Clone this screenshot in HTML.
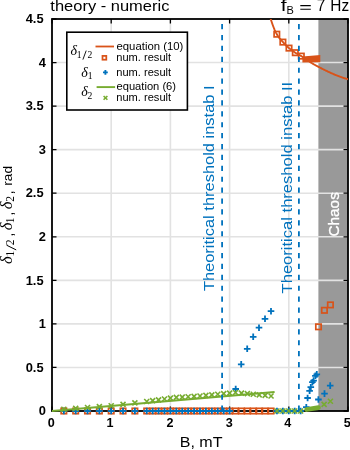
<!DOCTYPE html>
<html><head><meta charset="utf-8"><style>
html,body{margin:0;padding:0;background:#fff;width:350px;height:450px;overflow:hidden}
svg{display:block;will-change:transform;font-family:"Liberation Sans",sans-serif}
</style></head><body>
<svg width="350" height="450" viewBox="0 0 350 450">
<defs><clipPath id="ax"><rect x="52.0" y="19.0" width="296.0" height="392.0"/></clipPath></defs>
<rect x="318.40" y="19.0" width="29.60" height="392.0" fill="#999999"/><path d="M111.20 19.0V411.0M170.40 19.0V411.0M229.60 19.0V411.0M288.80 19.0V411.0M52.0 367.44H348.0M52.0 323.89H348.0M52.0 280.33H348.0M52.0 236.78H348.0M52.0 193.22H348.0M52.0 149.67H348.0M52.0 106.11H348.0M52.0 62.56H348.0" stroke="#e2e2e2" stroke-width="1.6" fill="none"/><path d="M52.00 411.0v-4.5M52.00 19.0v4.5M111.20 411.0v-4.5M111.20 19.0v4.5M170.40 411.0v-4.5M170.40 19.0v4.5M229.60 411.0v-4.5M229.60 19.0v4.5M288.80 411.0v-4.5M288.80 19.0v4.5M348.00 411.0v-4.5M348.00 19.0v4.5M52.0 411.00h4.5M348.0 411.00h-4.5M52.0 367.44h4.5M348.0 367.44h-4.5M52.0 323.89h4.5M348.0 323.89h-4.5M52.0 280.33h4.5M348.0 280.33h-4.5M52.0 236.78h4.5M348.0 236.78h-4.5M52.0 193.22h4.5M348.0 193.22h-4.5M52.0 149.67h4.5M348.0 149.67h-4.5M52.0 106.11h4.5M348.0 106.11h-4.5M52.0 62.56h4.5M348.0 62.56h-4.5M52.0 19.00h4.5M348.0 19.00h-4.5" stroke="#000" stroke-width="1.3" fill="none"/><rect x="52.0" y="19.0" width="296.0" height="392.0" fill="none" stroke="#000" stroke-width="1.8"/><polyline points="268.00,8.00 268.67,11.03 269.34,13.94 270.02,16.62 270.69,18.97 271.36,21.07 272.03,23.07 272.71,24.98 273.38,26.78 274.05,28.48 274.72,30.06 275.39,31.53 276.07,32.87 276.74,34.10 277.41,35.20 278.08,36.23 278.76,37.18 279.43,38.07 280.10,38.90 280.77,39.70 281.45,40.47 282.12,41.23 282.79,41.98 283.46,42.72 284.13,43.45 284.81,44.16 285.48,44.84 286.15,45.51 286.82,46.16 287.50,46.78 288.17,47.38 288.84,47.97 289.51,48.52 290.18,49.07 290.86,49.59 291.53,50.10 292.20,50.60 292.87,51.08 293.55,51.54 294.22,52.00 294.89,52.44 295.56,52.87 296.24,53.27 296.91,53.66 297.58,54.04 298.25,54.40 298.92,54.77 299.60,55.13 300.27,55.50 300.94,55.89 301.61,56.29 302.29,56.71 302.96,57.13 303.63,57.57 304.30,58.02 304.97,58.47 305.65,58.93 306.32,59.39 306.99,59.86 307.66,60.32 308.34,60.79 309.01,61.25 309.68,61.71 310.35,62.16 311.03,62.60 311.70,63.04 312.37,63.46 313.04,63.88 313.71,64.28 314.39,64.66 315.06,65.03 315.73,65.39 316.40,65.75 317.08,66.11 317.75,66.46 318.42,66.82 319.09,67.17 319.76,67.52 320.44,67.86 321.11,68.21 321.78,68.55 322.45,68.89 323.13,69.23 323.80,69.57 324.47,69.90 325.14,70.23 325.82,70.56 326.49,70.89 327.16,71.21 327.83,71.53 328.50,71.85 329.18,72.16 329.85,72.47 330.52,72.78 331.19,73.08 331.87,73.38 332.54,73.67 333.21,73.97 333.88,74.25 334.55,74.54 335.23,74.82 335.90,75.10 336.57,75.37 337.24,75.64 337.92,75.90 338.59,76.16 339.26,76.42 339.93,76.67 340.61,76.91 341.28,77.15 341.95,77.39 342.62,77.62 343.29,77.85 343.97,78.07 344.64,78.28 345.31,78.49 345.98,78.70 346.66,78.90 347.33,79.09 348.00,79.28" fill="none" stroke="#D95319" stroke-width="1.9" clip-path="url(#ax)"/><rect x="61.14" y="408.30" width="5.4" height="5.4" fill="none" stroke="#D95319" stroke-width="1.7"/><rect x="72.98" y="408.30" width="5.4" height="5.4" fill="none" stroke="#D95319" stroke-width="1.7"/><rect x="84.82" y="408.30" width="5.4" height="5.4" fill="none" stroke="#D95319" stroke-width="1.7"/><rect x="96.66" y="408.30" width="5.4" height="5.4" fill="none" stroke="#D95319" stroke-width="1.7"/><rect x="108.50" y="408.30" width="5.4" height="5.4" fill="none" stroke="#D95319" stroke-width="1.7"/><rect x="120.34" y="408.30" width="5.4" height="5.4" fill="none" stroke="#D95319" stroke-width="1.7"/><rect x="132.18" y="408.30" width="5.4" height="5.4" fill="none" stroke="#D95319" stroke-width="1.7"/><rect x="144.02" y="408.30" width="5.4" height="5.4" fill="none" stroke="#D95319" stroke-width="1.7"/><rect x="149.94" y="408.30" width="5.4" height="5.4" fill="none" stroke="#D95319" stroke-width="1.7"/><rect x="155.86" y="408.30" width="5.4" height="5.4" fill="none" stroke="#D95319" stroke-width="1.7"/><rect x="161.78" y="408.30" width="5.4" height="5.4" fill="none" stroke="#D95319" stroke-width="1.7"/><rect x="167.70" y="408.30" width="5.4" height="5.4" fill="none" stroke="#D95319" stroke-width="1.7"/><rect x="173.62" y="408.30" width="5.4" height="5.4" fill="none" stroke="#D95319" stroke-width="1.7"/><rect x="179.54" y="408.30" width="5.4" height="5.4" fill="none" stroke="#D95319" stroke-width="1.7"/><rect x="185.46" y="408.30" width="5.4" height="5.4" fill="none" stroke="#D95319" stroke-width="1.7"/><rect x="191.38" y="408.30" width="5.4" height="5.4" fill="none" stroke="#D95319" stroke-width="1.7"/><rect x="197.30" y="408.30" width="5.4" height="5.4" fill="none" stroke="#D95319" stroke-width="1.7"/><rect x="203.22" y="408.30" width="5.4" height="5.4" fill="none" stroke="#D95319" stroke-width="1.7"/><rect x="209.14" y="408.30" width="5.4" height="5.4" fill="none" stroke="#D95319" stroke-width="1.7"/><rect x="215.06" y="408.30" width="5.4" height="5.4" fill="none" stroke="#D95319" stroke-width="1.7"/><rect x="220.98" y="408.30" width="5.4" height="5.4" fill="none" stroke="#D95319" stroke-width="1.7"/><rect x="226.90" y="408.30" width="5.4" height="5.4" fill="none" stroke="#D95319" stroke-width="1.7"/><rect x="232.82" y="408.30" width="5.4" height="5.4" fill="none" stroke="#D95319" stroke-width="1.7"/><rect x="238.74" y="408.30" width="5.4" height="5.4" fill="none" stroke="#D95319" stroke-width="1.7"/><rect x="244.66" y="408.30" width="5.4" height="5.4" fill="none" stroke="#D95319" stroke-width="1.7"/><rect x="250.58" y="408.30" width="5.4" height="5.4" fill="none" stroke="#D95319" stroke-width="1.7"/><rect x="256.50" y="408.30" width="5.4" height="5.4" fill="none" stroke="#D95319" stroke-width="1.7"/><rect x="262.42" y="408.30" width="5.4" height="5.4" fill="none" stroke="#D95319" stroke-width="1.7"/><rect x="268.34" y="408.30" width="5.4" height="5.4" fill="none" stroke="#D95319" stroke-width="1.7"/><rect x="274.10" y="31.50" width="5.4" height="5.4" fill="none" stroke="#D95319" stroke-width="1.7"/><rect x="280.20" y="39.40" width="5.4" height="5.4" fill="none" stroke="#D95319" stroke-width="1.7"/><rect x="286.30" y="45.40" width="5.4" height="5.4" fill="none" stroke="#D95319" stroke-width="1.7"/><rect x="292.60" y="50.00" width="5.4" height="5.4" fill="none" stroke="#D95319" stroke-width="1.7"/><rect x="298.60" y="53.40" width="5.4" height="5.4" fill="none" stroke="#D95319" stroke-width="1.7"/><path d="M302.4 56.6L320.3 55.0L320.3 62.2L302.4 62.5Z" fill="#D95319"/><rect x="315.80" y="324.10" width="5.4" height="5.4" fill="none" stroke="#D95319" stroke-width="1.7"/><rect x="321.70" y="307.60" width="5.4" height="5.4" fill="none" stroke="#D95319" stroke-width="1.7"/><rect x="327.70" y="302.20" width="5.4" height="5.4" fill="none" stroke="#D95319" stroke-width="1.7"/><path d="M60.54 411.00H67.14M63.84 407.70V414.30" stroke="#0072BD" stroke-width="1.8"/><path d="M72.38 411.00H78.98M75.68 407.70V414.30" stroke="#0072BD" stroke-width="1.8"/><path d="M84.22 411.00H90.82M87.52 407.70V414.30" stroke="#0072BD" stroke-width="1.8"/><path d="M96.06 411.00H102.66M99.36 407.70V414.30" stroke="#0072BD" stroke-width="1.8"/><path d="M107.90 411.00H114.50M111.20 407.70V414.30" stroke="#0072BD" stroke-width="1.8"/><path d="M119.74 411.00H126.34M123.04 407.70V414.30" stroke="#0072BD" stroke-width="1.8"/><path d="M131.58 411.00H138.18M134.88 407.70V414.30" stroke="#0072BD" stroke-width="1.8"/><path d="M143.42 411.00H150.02M146.72 407.70V414.30" stroke="#0072BD" stroke-width="1.8"/><path d="M149.34 411.00H155.94M152.64 407.70V414.30" stroke="#0072BD" stroke-width="1.8"/><path d="M155.26 411.00H161.86M158.56 407.70V414.30" stroke="#0072BD" stroke-width="1.8"/><path d="M161.18 411.00H167.78M164.48 407.70V414.30" stroke="#0072BD" stroke-width="1.8"/><path d="M167.10 411.00H173.70M170.40 407.70V414.30" stroke="#0072BD" stroke-width="1.8"/><path d="M173.02 411.00H179.62M176.32 407.70V414.30" stroke="#0072BD" stroke-width="1.8"/><path d="M178.94 411.00H185.54M182.24 407.70V414.30" stroke="#0072BD" stroke-width="1.8"/><path d="M184.86 411.00H191.46M188.16 407.70V414.30" stroke="#0072BD" stroke-width="1.8"/><path d="M190.78 411.00H197.38M194.08 407.70V414.30" stroke="#0072BD" stroke-width="1.8"/><path d="M196.70 411.00H203.30M200.00 407.70V414.30" stroke="#0072BD" stroke-width="1.8"/><path d="M202.62 411.00H209.22M205.92 407.70V414.30" stroke="#0072BD" stroke-width="1.8"/><path d="M208.54 411.00H215.14M211.84 407.70V414.30" stroke="#0072BD" stroke-width="1.8"/><path d="M214.46 411.00H221.06M217.76 407.70V414.30" stroke="#0072BD" stroke-width="1.8"/><path d="M220.38 411.00H226.98M223.68 407.70V414.30" stroke="#0072BD" stroke-width="1.8"/><path d="M226.30 411.00H232.90M229.60 407.70V414.30" stroke="#0072BD" stroke-width="1.8"/><path d="M232.40 389.00H239.00M235.70 385.70V392.30" stroke="#0072BD" stroke-width="1.8"/><path d="M237.90 364.30H244.50M241.20 361.00V367.60" stroke="#0072BD" stroke-width="1.8"/><path d="M243.90 348.80H250.50M247.20 345.50V352.10" stroke="#0072BD" stroke-width="1.8"/><path d="M249.90 336.80H256.50M253.20 333.50V340.10" stroke="#0072BD" stroke-width="1.8"/><path d="M255.70 327.70H262.30M259.00 324.40V331.00" stroke="#0072BD" stroke-width="1.8"/><path d="M261.70 318.80H268.30M265.00 315.50V322.10" stroke="#0072BD" stroke-width="1.8"/><path d="M267.70 311.20H274.30M271.00 307.90V314.50" stroke="#0072BD" stroke-width="1.8"/><path d="M273.66 411.00H280.26M276.96 407.70V414.30" stroke="#0072BD" stroke-width="1.8"/><path d="M279.58 411.00H286.18M282.88 407.70V414.30" stroke="#0072BD" stroke-width="1.8"/><path d="M285.50 411.00H292.10M288.80 407.70V414.30" stroke="#0072BD" stroke-width="1.8"/><path d="M291.42 411.00H298.02M294.72 407.70V414.30" stroke="#0072BD" stroke-width="1.8"/><path d="M297.34 411.00H303.94M300.64 407.70V414.30" stroke="#0072BD" stroke-width="1.8"/><path d="M303.00 407.20H309.60M306.30 403.90V410.50" stroke="#0072BD" stroke-width="1.8"/><path d="M304.30 398.00H310.90M307.60 394.70V401.30" stroke="#0072BD" stroke-width="1.8"/><path d="M306.30 390.80H312.90M309.60 387.50V394.10" stroke="#0072BD" stroke-width="1.8"/><path d="M307.50 387.20H314.10M310.80 383.90V390.50" stroke="#0072BD" stroke-width="1.8"/><path d="M309.10 382.20H315.70M312.40 378.90V385.50" stroke="#0072BD" stroke-width="1.8"/><path d="M310.30 380.60H316.90M313.60 377.30V383.90" stroke="#0072BD" stroke-width="1.8"/><path d="M312.10 375.80H318.70M315.40 372.50V379.10" stroke="#0072BD" stroke-width="1.8"/><path d="M313.50 374.40H320.10M316.80 371.10V377.70" stroke="#0072BD" stroke-width="1.8"/><path d="M315.10 399.50H321.70M318.40 396.20V402.80" stroke="#0072BD" stroke-width="1.8"/><path d="M321.20 393.60H327.80M324.50 390.30V396.90" stroke="#0072BD" stroke-width="1.8"/><path d="M326.90 385.60H333.50M330.20 382.30V388.90" stroke="#0072BD" stroke-width="1.8"/><line x1="52.0" y1="411.0" x2="274.6" y2="392.1" stroke="#77AC30" stroke-width="2"/><path d="M61.34 406.80L66.34 411.80M61.34 411.80L66.34 406.80" stroke="#77AC30" stroke-width="1.6"/><path d="M73.18 405.93L78.18 410.93M73.18 410.93L78.18 405.93" stroke="#77AC30" stroke-width="1.6"/><path d="M85.02 405.05L90.02 410.05M85.02 410.05L90.02 405.05" stroke="#77AC30" stroke-width="1.6"/><path d="M96.86 404.18L101.86 409.18M96.86 409.18L101.86 404.18" stroke="#77AC30" stroke-width="1.6"/><path d="M108.70 403.30L113.70 408.30M108.70 408.30L113.70 403.30" stroke="#77AC30" stroke-width="1.6"/><path d="M120.54 401.87L125.54 406.87M120.54 406.87L125.54 401.87" stroke="#77AC30" stroke-width="1.6"/><path d="M132.38 400.43L137.38 405.43M132.38 405.43L137.38 400.43" stroke="#77AC30" stroke-width="1.6"/><path d="M144.22 399.00L149.22 404.00M144.22 404.00L149.22 399.00" stroke="#77AC30" stroke-width="1.6"/><path d="M150.14 398.17L155.14 403.17M150.14 403.17L155.14 398.17" stroke="#77AC30" stroke-width="1.6"/><path d="M156.06 397.33L161.06 402.33M156.06 402.33L161.06 397.33" stroke="#77AC30" stroke-width="1.6"/><path d="M161.98 396.50L166.98 401.50M161.98 401.50L166.98 396.50" stroke="#77AC30" stroke-width="1.6"/><path d="M167.90 395.67L172.90 400.67M167.90 400.67L172.90 395.67" stroke="#77AC30" stroke-width="1.6"/><path d="M173.82 394.93L178.82 399.93M173.82 399.93L178.82 394.93" stroke="#77AC30" stroke-width="1.6"/><path d="M179.74 394.57L184.74 399.57M179.74 399.57L184.74 394.57" stroke="#77AC30" stroke-width="1.6"/><path d="M185.66 394.21L190.66 399.21M185.66 399.21L190.66 394.21" stroke="#77AC30" stroke-width="1.6"/><path d="M191.58 393.86L196.58 398.86M191.58 398.86L196.58 393.86" stroke="#77AC30" stroke-width="1.6"/><path d="M197.50 393.50L202.50 398.50M197.50 398.50L202.50 393.50" stroke="#77AC30" stroke-width="1.6"/><path d="M203.42 392.92L208.42 397.92M203.42 397.92L208.42 392.92" stroke="#77AC30" stroke-width="1.6"/><path d="M209.34 392.33L214.34 397.33M209.34 397.33L214.34 392.33" stroke="#77AC30" stroke-width="1.6"/><path d="M215.26 391.75L220.26 396.75M215.26 396.75L220.26 391.75" stroke="#77AC30" stroke-width="1.6"/><path d="M221.18 391.17L226.18 396.17M221.18 396.17L226.18 391.17" stroke="#77AC30" stroke-width="1.6"/><path d="M227.10 390.58L232.10 395.58M227.10 395.58L232.10 390.58" stroke="#77AC30" stroke-width="1.6"/><path d="M233.02 390.00L238.02 395.00M233.02 395.00L238.02 390.00" stroke="#77AC30" stroke-width="1.6"/><path d="M238.94 390.58L243.94 395.58M238.94 395.58L243.94 390.58" stroke="#77AC30" stroke-width="1.6"/><path d="M244.86 391.17L249.86 396.17M244.86 396.17L249.86 391.17" stroke="#77AC30" stroke-width="1.6"/><path d="M250.78 391.75L255.78 396.75M250.78 396.75L255.78 391.75" stroke="#77AC30" stroke-width="1.6"/><path d="M256.70 392.33L261.70 397.33M256.70 397.33L261.70 392.33" stroke="#77AC30" stroke-width="1.6"/><path d="M262.62 392.92L267.62 397.92M262.62 397.92L267.62 392.92" stroke="#77AC30" stroke-width="1.6"/><path d="M268.54 393.50L273.54 398.50M268.54 398.50L273.54 393.50" stroke="#77AC30" stroke-width="1.6"/><path d="M274.46 408.50L279.46 413.50M274.46 413.50L279.46 408.50" stroke="#77AC30" stroke-width="1.6"/><path d="M280.38 408.50L285.38 413.50M280.38 413.50L285.38 408.50" stroke="#77AC30" stroke-width="1.6"/><path d="M286.30 408.50L291.30 413.50M286.30 413.50L291.30 408.50" stroke="#77AC30" stroke-width="1.6"/><path d="M292.22 408.50L297.22 413.50M292.22 413.50L297.22 408.50" stroke="#77AC30" stroke-width="1.6"/><path d="M298.14 408.50L303.14 413.50M298.14 413.50L303.14 408.50" stroke="#77AC30" stroke-width="1.6"/><path d="M306.6 409.5L318.4 407.7" stroke="#77AC30" stroke-width="4.8" stroke-linecap="round"/><path d="M321.60 401.90L326.60 406.90M321.60 406.90L326.60 401.90" stroke="#77AC30" stroke-width="1.6"/><path d="M327.90 398.80L332.90 403.80M327.90 403.80L332.90 398.80" stroke="#77AC30" stroke-width="1.6"/><line x1="222.1" y1="19.0" x2="222.1" y2="411.0" stroke="#0072BD" stroke-width="1.8" stroke-dasharray="5.2 5.7" stroke-dashoffset="5.85"/><line x1="298.9" y1="19.0" x2="298.9" y2="411.0" stroke="#0072BD" stroke-width="1.8" stroke-dasharray="5.2 5.7" stroke-dashoffset="5.85"/><text transform="translate(214.40,291.11) rotate(-90) scale(1.0761,1)" font-size="15.3" fill="#0072BD">Theoritical threshold instab I</text><text transform="translate(292.20,293.41) rotate(-90) scale(1.0822,1)" font-size="15.3" fill="#0072BD">Theoritical threshold instab II</text><text stroke="#fff" stroke-width="0.35" transform="translate(338.70,236.47) rotate(-90) scale(1.0019,1)" font-size="15.3" fill="#fff">Chaos</text><rect x="66.8" y="32.2" width="120.6" height="77.8" fill="#fff" stroke="#000" stroke-width="1.6"/><line x1="95.5" y1="46.5" x2="114" y2="46.5" stroke="#D95319" stroke-width="1.8"/><rect x="102.50" y="55.90" width="3.8" height="3.8" fill="none" stroke="#D95319" stroke-width="1.75"/><path d="M103.00 72.40H107.80M105.40 70.00V74.80" stroke="#0072BD" stroke-width="1.9"/><line x1="96.6" y1="87.1" x2="115.1" y2="87.1" stroke="#77AC30" stroke-width="1.9"/><path d="M103.60 96.00L107.40 99.80M103.60 99.80L107.40 96.00" stroke="#77AC30" stroke-width="1.6"/><text transform="translate(116.49,49.60) scale(1.0516,1)" font-size="10.8" fill="#000">equation (10)</text><text transform="translate(116.28,61.20) scale(1.0275,1)" font-size="10.8" fill="#000">num. result</text><text transform="translate(116.28,76.00) scale(1.0275,1)" font-size="10.8" fill="#000">num. result</text><text transform="translate(116.50,89.80) scale(1.0339,1)" font-size="10.8" fill="#000">equation (6)</text><text transform="translate(116.28,101.40) scale(1.0275,1)" font-size="10.8" fill="#000">num. result</text><text x="70.4" y="55.2" font-family="Liberation Serif" font-style="italic" font-size="14">δ</text><text x="76.7" y="57.6" font-family="Liberation Serif" font-size="9.6">1</text><text x="87.5" y="57.6" font-family="Liberation Serif" font-size="9.6">2</text><path d="M82.9 59.6L86.2 50.6" stroke="#000" stroke-width="0.9"/><text x="81.2" y="77.0" font-family="Liberation Serif" font-style="italic" font-size="14">δ</text><text x="87.7" y="79.3" font-family="Liberation Serif" font-size="9.6">1</text><text x="81.2" y="95.6" font-family="Liberation Serif" font-style="italic" font-size="14">δ</text><text x="87.6" y="98.6" font-family="Liberation Serif" font-size="9.6">2</text><text x="51.20" y="427.3" font-size="12.6" font-weight="bold" text-anchor="middle">0</text><text x="110.00" y="427.3" font-size="12.6" font-weight="bold" text-anchor="middle">1</text><text x="169.90" y="427.3" font-size="12.6" font-weight="bold" text-anchor="middle">2</text><text x="229.20" y="427.3" font-size="12.6" font-weight="bold" text-anchor="middle">3</text><text x="287.70" y="427.3" font-size="12.6" font-weight="bold" text-anchor="middle">4</text><text x="347.20" y="427.3" font-size="12.6" font-weight="bold" text-anchor="middle">5</text><text x="45.8" y="415.20" font-size="12.4" font-weight="bold" text-anchor="end" transform="translate(45.8,0) scale(1.04,1) translate(-45.8,0)">0</text><text x="43.6" y="371.64" font-size="12.4" font-weight="bold" text-anchor="end" transform="translate(43.6,0) scale(1.04,1) translate(-43.6,0)">0.5</text><text x="45.8" y="328.09" font-size="12.4" font-weight="bold" text-anchor="end" transform="translate(45.8,0) scale(1.04,1) translate(-45.8,0)">1</text><text x="43.6" y="284.53" font-size="12.4" font-weight="bold" text-anchor="end" transform="translate(43.6,0) scale(1.04,1) translate(-43.6,0)">1.5</text><text x="45.8" y="240.98" font-size="12.4" font-weight="bold" text-anchor="end" transform="translate(45.8,0) scale(1.04,1) translate(-45.8,0)">2</text><text x="43.6" y="197.42" font-size="12.4" font-weight="bold" text-anchor="end" transform="translate(43.6,0) scale(1.04,1) translate(-43.6,0)">2.5</text><text x="45.8" y="153.87" font-size="12.4" font-weight="bold" text-anchor="end" transform="translate(45.8,0) scale(1.04,1) translate(-45.8,0)">3</text><text x="43.6" y="110.31" font-size="12.4" font-weight="bold" text-anchor="end" transform="translate(43.6,0) scale(1.04,1) translate(-43.6,0)">3.5</text><text x="45.8" y="66.76" font-size="12.4" font-weight="bold" text-anchor="end" transform="translate(45.8,0) scale(1.04,1) translate(-45.8,0)">4</text><text x="43.6" y="23.20" font-size="12.4" font-weight="bold" text-anchor="end" transform="translate(43.6,0) scale(1.04,1) translate(-43.6,0)">4.5</text><text transform="translate(50.35,11.20) scale(1.0850,1)" font-size="15.2" fill="#000">theory - numeric</text><text transform="translate(280.68,11.30) scale(1.3546,1)" font-size="15.6" fill="#000">f</text><text transform="translate(286.42,14.00) scale(1.0404,1)" font-size="10.6" fill="#000">B</text><path d="M300.3 5.6H310.8M300.3 9.2H310.8" stroke="#000" stroke-width="1.1"/><text transform="translate(316.63,11.30) scale(0.9862,1)" font-size="15.6" fill="#000">7</text><text transform="translate(330.37,11.30) scale(0.9880,1)" font-size="15.6" fill="#000">Hz</text><text transform="translate(179.72,447.30) scale(1.0853,1)" font-size="14.8" fill="#000">B, mT</text><text transform="translate(12.20,264.00) rotate(-90)" font-family="Liberation Serif" font-style="italic" font-size="16.5">δ</text><text transform="translate(14.40,256.50) rotate(-90)" font-family="Liberation Serif" font-style="normal" font-size="11.5">1</text><path d="M16.2 249.9L6.6 245.2" stroke="#000" stroke-width="1"/><text transform="translate(14.40,245.20) rotate(-90)" font-family="Liberation Serif" font-style="normal" font-size="11.5">2</text><text transform="translate(13.40,236.80) rotate(-90)" font-family="Liberation Sans" font-style="normal" font-size="15">,</text><text transform="translate(12.20,230.20) rotate(-90)" font-family="Liberation Serif" font-style="italic" font-size="16.5">δ</text><text transform="translate(14.40,223.30) rotate(-90)" font-family="Liberation Serif" font-style="normal" font-size="11.5">1</text><text transform="translate(13.40,215.80) rotate(-90)" font-family="Liberation Sans" font-style="normal" font-size="15">,</text><text transform="translate(12.20,209.20) rotate(-90)" font-family="Liberation Serif" font-style="italic" font-size="16.5">δ</text><text transform="translate(14.40,201.80) rotate(-90)" font-family="Liberation Serif" font-style="normal" font-size="11.5">2</text><text transform="translate(13.40,194.50) rotate(-90)" font-family="Liberation Sans" font-style="normal" font-size="15">,</text><text transform="translate(11.80,185.70) rotate(-90)" font-family="Liberation Sans" font-style="normal" font-size="13.7">rad</text>
</svg>
</body></html>
